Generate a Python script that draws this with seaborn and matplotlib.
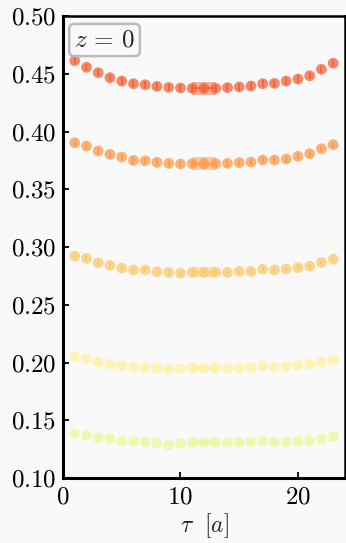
import numpy as np
import pandas as pd
import matplotlib
matplotlib.use("Agg")
import matplotlib.pyplot as plt
import seaborn as sns

tau = list(range(1, 24))

y_z0_a = [0.4613, 0.4556, 0.4509, 0.4466, 0.4437, 0.4414, 0.4405, 0.4391, 0.4382, 0.4377, 0.4374, 0.4374,
          0.4374, 0.4380, 0.4386, 0.4394, 0.4414, 0.4417, 0.4437, 0.4455, 0.4483, 0.4539, 0.4591]
y_z0_b = [0.3903, 0.3874, 0.3831, 0.3802, 0.3779, 0.3750, 0.3747, 0.3733, 0.3724, 0.3719, 0.3722, 0.3722,
          0.3722, 0.3724, 0.3730, 0.3736, 0.3753, 0.3753, 0.3762, 0.3785, 0.3808, 0.3851, 0.3886]
y_z0_c = [0.2922, 0.2902, 0.2864, 0.2841, 0.2818, 0.2801, 0.2801, 0.2786, 0.2780, 0.2775, 0.2780, 0.2780,
          0.2780, 0.2780, 0.2789, 0.2789, 0.2807, 0.2802, 0.2810, 0.2822, 0.2833, 0.2868, 0.2894]
y_z0_d = [0.2050, 0.2035, 0.2002, 0.1987, 0.1972, 0.1964, 0.1958, 0.1950, 0.1941, 0.1944, 0.1952, 0.1952,
          0.1952, 0.1947, 0.1952, 0.1955, 0.1970, 0.1961, 0.1967, 0.1976, 0.1987, 0.2004, 0.2022]
y_z0_e = [0.1381, 0.1370, 0.1349, 0.1340, 0.1320, 0.1317, 0.1312, 0.1303, 0.1288, 0.1300, 0.1309, 0.1309,
          0.1309, 0.1306, 0.1309, 0.1312, 0.1320, 0.1312, 0.1312, 0.1320, 0.1323, 0.1335, 0.1358]

series = [y_z0_a, y_z0_b, y_z0_c, y_z0_d, y_z0_e]
errs = [0.0032, 0.0027, 0.0018, 0.0012, 0.0010]
fit_vals = [0.4375, 0.3722, 0.2780, 0.1952, 0.1309]
fit_errs = [0.0058, 0.0055, 0.0043, 0.0030, 0.0025]
fit_range = [11, 13]
colors = ["#f4623a", "#fd9a4a", "#fdc96a", "#fff2a0", "#eef79c"]

bg = "#f9f9f9"
sns.set_theme(style="ticks", rc={"axes.facecolor": bg, "figure.facecolor": bg})
plt.rcParams["mathtext.fontset"] = "cm"
plt.rcParams["font.family"] = ["serif"]
plt.rcParams["font.serif"] = ["cmr10", "DejaVu Serif"]
plt.rcParams["axes.formatter.use_mathtext"] = True

fig = plt.figure(figsize=(3.46, 5.43), dpi=100)
ax = fig.add_axes([0.182, 0.1197, 0.997 - 0.182, 0.9705 - 0.1197])

for ys, e, fv, fe, c in zip(series, errs, fit_vals, fit_errs, colors):
    df = pd.DataFrame({"tau": tau, "y": ys})
    sns.scatterplot(data=df, x="tau", y="y", ax=ax, color=c, s=60, edgecolor="none", alpha=0.75,
                    zorder=3, legend=False)
    ax.errorbar(df["tau"], df["y"], yerr=e, fmt="none", ecolor=c, elinewidth=1.4, alpha=0.9, zorder=4)
    ax.fill_between(fit_range, [fv - fe] * 2, [fv + fe] * 2, color=c, alpha=0.5, lw=0, zorder=1)
    ax.plot(fit_range, [fv] * 2, color=c, lw=1.5, alpha=0.8, zorder=1)

ax.set_xlim(0, 24)
ax.set_ylim(0.10, 0.50)
ax.set_xticks([0, 10, 20])
ax.set_yticks(np.arange(0.10, 0.501, 0.05))
ax.set_xticklabels([f"${v}$" for v in [0, 10, 20]])
ax.set_yticklabels([f"${v:.2f}$" for v in np.arange(0.10, 0.501, 0.05)])
ax.tick_params(direction="in", length=4, width=1.3, labelsize=18, colors="black")
ax.tick_params(axis="y", pad=5)
ax.tick_params(axis="x", pad=6)
for side in ["left", "bottom"]:
    ax.spines[side].set_linewidth(2.2)
for side in ["top", "right"]:
    ax.spines[side].set_linewidth(1.8)
for sp in ax.spines.values():
    sp.set_color("black")
ax.set_xlabel(r"$\tau\ \ [a]$", fontsize=17, labelpad=2)
ax.set_ylabel("")

ax.text(0.04, 0.972, r"$z\,=\,0$", transform=ax.transAxes, fontsize=18, va="top", ha="left",
        bbox=dict(boxstyle="round,pad=0.2", fc=bg, ec="#bbbbbb", lw=1.8))

fig.savefig("out.png", dpi=100, facecolor=bg)
